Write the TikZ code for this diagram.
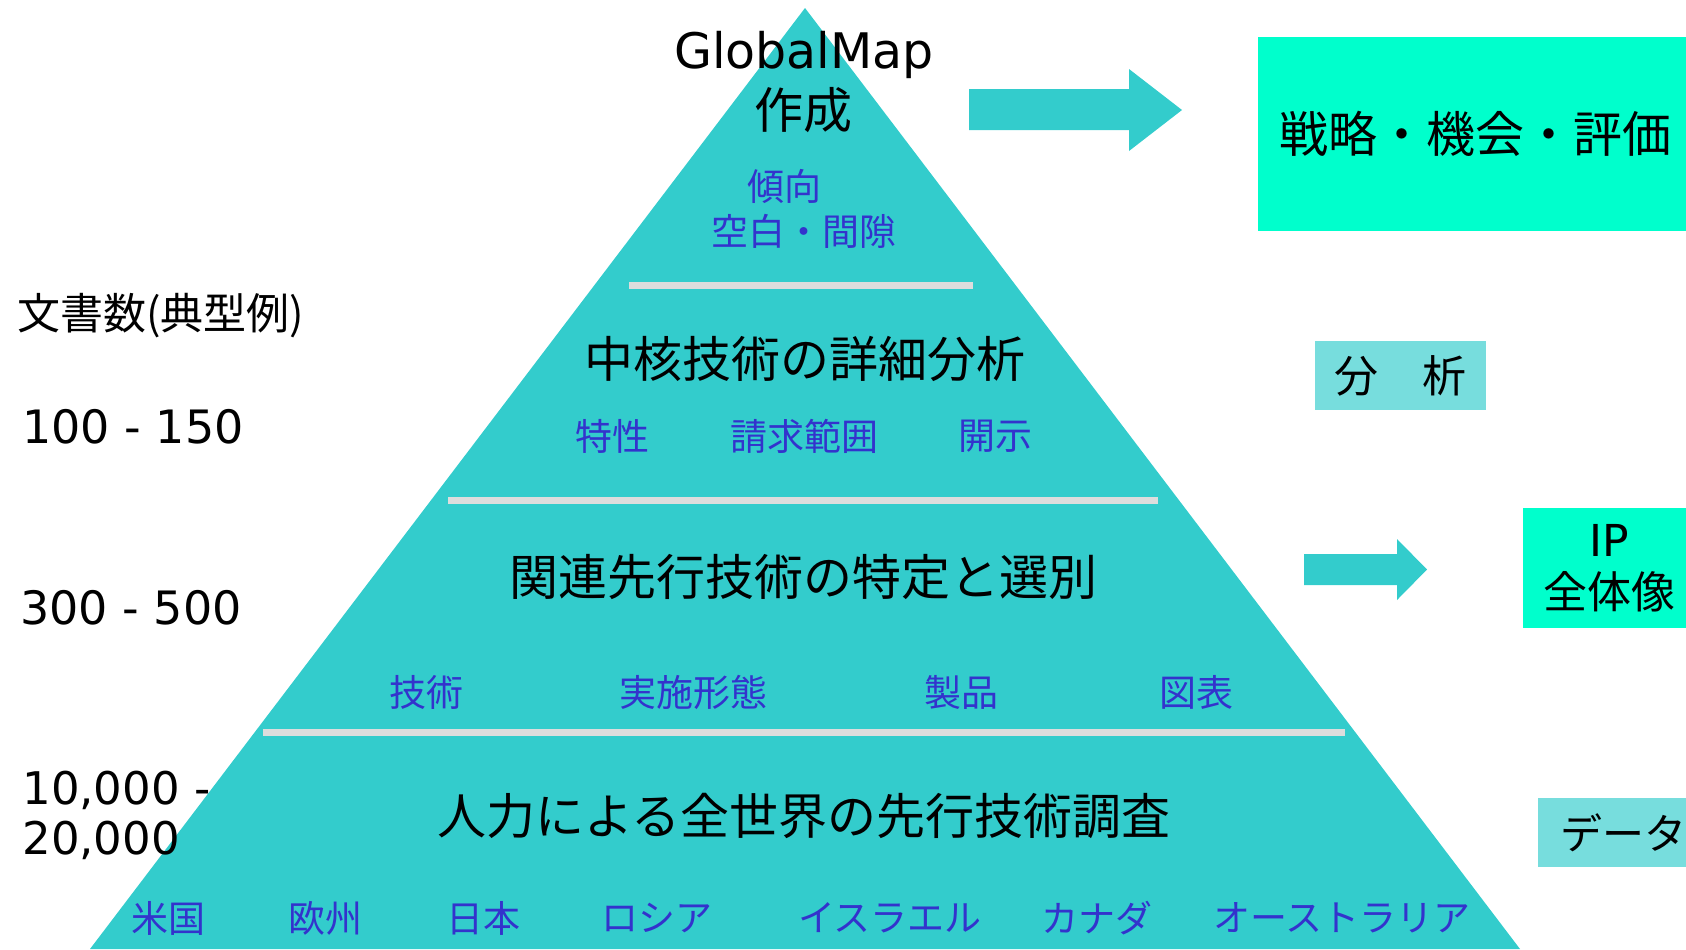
\documentclass[tikz,border=0pt]{standalone}
\usepackage{fontspec}
\setmainfont{DejaVu Sans}
\newfontfamily\jp{Noto Sans CJK JP}
\definecolor{tri}{HTML}{33CCCC}
\definecolor{blu}{HTML}{3333CC}
\definecolor{sepline}{HTML}{DDDDDD}
\definecolor{bigbox}{HTML}{00FFCC}
\definecolor{smallbox}{HTML}{77DDDD}
\tikzset{
  title/.style={inner sep=0pt, font=\jp\fontsize{24.5}{29}\selectfont},
  item/.style={inner sep=0pt, text=blu, font=\jp\fontsize{18.5}{23}\selectfont},
  count/.style={inner sep=0pt, font=\fontsize{23}{25}\selectfont},
  sepbar/.style={draw=sepline, line width=3.5pt},
  blockarrow/.style={fill=tri},
  brightbox/.style={fill=bigbox, inner ysep=0pt, anchor=west},
  paleboxstyle/.style={fill=smallbox, inner ysep=0pt, anchor=west},
}
\begin{document}
\begin{tikzpicture}[x=0.5pt,y=-0.5pt]
\useasboundingbox (0,0) rectangle (1686,949);
% pyramid
\fill[tri] (805,8) -- (90,949) -- (1520,949) -- cycle;
\draw[sepbar] (629,285.5) -- (973,285.5);
\draw[sepbar] (448,500.5) -- (1158,500.5);
\draw[sepbar] (263,732) -- (1345,732);
% top tier
\node[inner sep=0pt, anchor=base, font=\fontsize{24.5}{29}\selectfont] (gm) at (804,68) {GlobalMap};
\node[title] (gm2) at (803,110) {作成};
\node[item] (trend) at (784,186) {傾向};
\node[item] (gap) at (804,231) {空白・間隙};
% second tier
\node[title] (core) at (805,359) {中核技術の詳細分析};
\node[item] (c1) at (612,436) {特性};
\node[item] (c2) at (804,436) {請求範囲};
\node[item] (c3) at (995,436) {開示};
% third tier
\node[title] (rel) at (803,577) {関連先行技術の特定と選別};
\node[item] (r1) at (426,692) {技術};
\node[item] (r2) at (693,692) {実施形態};
\node[item] (r3) at (961,692) {製品};
\node[item] (r4) at (1196,692) {図表};
% bottom tier
\node[title] (survey) at (804,816) {人力による全世界の先行技術調査};
\node[item] (k1) at (168,918) {米国};
\node[item] (k2) at (325,918) {欧州};
\node[item] (k3) at (483,918) {日本};
\node[item] (k4) at (657,918) {ロシア};
\node[item] (k5) at (890,918) {イスラエル};
\node[item] (k6) at (1097,918) {カナダ};
\node[item] (k7) at (1342,918) {オーストラリア};
% left labels
\node[inner sep=0pt, anchor=base, font=\jp\fontsize{21.5}{25}\selectfont] (doc) at (161,329) {文書数(典型例)};
\node[count] (n1) at (133,427) {100 - 150};
\node[count] (n2) at (131,608) {300 - 500};
\node[inner sep=0pt, anchor=west, align=left, font=\fontsize{22.5}{25}\selectfont] (n3) at (22,815) {10,000 -\\20,000};
% right boxes
\node[brightbox, minimum height=97pt, inner xsep=0pt, font=\jp\fontsize{24.5}{29}\selectfont] (strat) at (1258,134) {\hspace{10.5pt}戦略・機会・評価\hspace{30pt}\null};
\node[paleboxstyle, minimum height=34.5pt, inner xsep=0pt, font=\jp\fontsize{22}{26}\selectfont] (anal) at (1315,375.5) {\hspace{9.5pt}分　析\hspace{10pt}\null};
\node[brightbox, minimum height=60pt, inner xsep=0pt, align=center, font=\jp\fontsize{22}{26}\selectfont] (ip) at (1523,568) {\hspace{10pt}{\normalfont IP}\hspace{24pt}\null\\\hspace{10pt}全体像\hspace{24pt}\null};
\node[paleboxstyle, minimum height=34.5pt, inner xsep=0pt, font=\jp\fontsize{21}{25}\selectfont] (data) at (1538,832.5) {\hspace{11pt}データ\hspace{20pt}\null};
% block arrows
\fill[blockarrow] (969,89) -- (1129,89) -- (1129,69) -- (1182,110) -- (1129,151) -- (1129,130) -- (969,130) -- cycle;
\fill[blockarrow] (1304,554) -- (1397,554) -- (1397,539) -- (1427,569.5) -- (1397,600) -- (1397,585) -- (1304,585) -- cycle;
\end{tikzpicture}
\end{document}
